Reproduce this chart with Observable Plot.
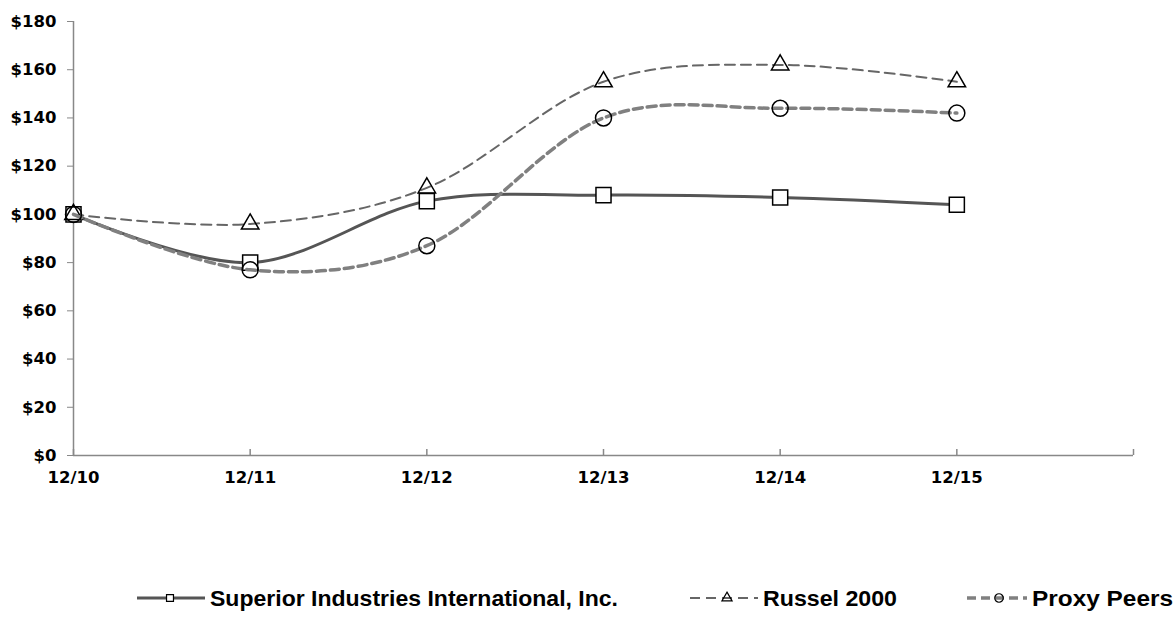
<!DOCTYPE html>
<html>
<head>
<meta charset="utf-8">
<script src="https://cdn.jsdelivr.net/npm/d3@7"></script>
<script src="https://cdn.jsdelivr.net/npm/@observablehq/plot@0.6"></script>
<style>
  html, body { margin: 0; padding: 0; background: #fff; }
  #wrap { position: relative; width: 1176px; height: 626px; background: #fff; overflow: hidden; }
  #chart { position: absolute; left: 0; top: 0; }
  #legend { position: absolute; left: 0; top: 500px; }
</style>
</head>
<body>
<div id="wrap"><div id="chart"></div><svg id="legend" width="1176" height="126"></svg></div>
<script>
// ---- data ----
const dates = ["12/10", "12/11", "12/12", "12/13", "12/14", "12/15"];
const superior = [100, 80, 105.5, 108, 107, 104];
const russell = [100, 96, 111, 155, 162, 155];
const proxy = [100, 77, 87, 140, 144, 142];
const seriesNames = ["Superior Industries International, Inc.", "Russel 2000", "Proxy Peers"];
const yTicks = [0, 20, 40, 60, 80, 100, 120, 140, 160, 180];
const xTickCount = 7; // six dated categories plus an empty trailing slot

// ---- styles ----
const styles = [
  {name: seriesNames[0], values: superior, stroke: "#555", width: 3, dash: null, symbol: "square", r: 8.5, fill: "#fff"},
  {name: seriesNames[1], values: russell, stroke: "#666", width: 2, dash: "10,6", symbol: "triangle", r: 6.5, fill: "none"},
  {name: seriesNames[2], values: proxy, stroke: "#808080", width: 3.5, dash: "9,5", symbol: "circle", r: 8, fill: "none"}
];

const tables = styles.map(s => dates.map((d, i) => ({i, date: d, v: s.values[i]})));
const tickIdx = d3.range(xTickCount);

const marks = [
  Plot.axisY({ticks: yTicks, tickFormat: d => "$" + d, tickSize: 6, tickPadding: 11, stroke: "#888", label: null}),
  Plot.axisX({ticks: d3.range(dates.length), tickFormat: i => dates[i], tickSize: 0, tickPadding: 16, label: null}),
  Plot.ruleX(tickIdx, {x: d => d, y1: 0, y2: 0, insetTop: -6, stroke: "#888", strokeWidth: 1.5}),
  Plot.ruleX([0], {stroke: "#888", strokeWidth: 1.5}),
  Plot.ruleY([0], {stroke: "#888", strokeWidth: 1.5})
];
styles.forEach((s, k) => {
  marks.push(Plot.line(tables[k], {x: "i", y: "v", curve: "cardinal", stroke: s.stroke, strokeWidth: s.width, strokeDasharray: s.dash}));
  marks.push(Plot.dot(tables[k], {x: "i", y: "v", symbol: s.symbol, r: s.r, stroke: "#000", strokeWidth: 1.5, fill: s.fill}));
});

const chart = Plot.plot({
  width: 1176,
  height: 500,
  marginLeft: 73,
  marginRight: 43,
  marginTop: 21,
  marginBottom: 45,
  style: {fontFamily: "'DejaVu Sans', sans-serif", fontWeight: "bold", fontSize: "16.5px", color: "#000", background: "#fff", overflow: "visible"},
  x: {domain: [0, xTickCount - 1], axis: null},
  y: {domain: [0, 180], axis: null},
  marks
});
document.getElementById("chart").appendChild(chart);

// ---- legend ----
const legendLayout = [
  {x0: 137, x1: 205, mx: 170, tx: 210, tw: 408, mr: 3.2},
  {x0: 690, x1: 758, mx: 727, tx: 763, tw: 134, mr: 3.2},
  {x0: 967, x1: 1027, mx: 999, tx: 1032, tw: 141, mr: 3.6}
];
const ly = 98;
const lg = d3.select("#legend");
styles.forEach((s, k) => {
  const L = legendLayout[k];
  lg.append("line").attr("x1", L.x0).attr("x2", L.x1).attr("y1", ly).attr("y2", ly)
    .attr("stroke", s.stroke).attr("stroke-width", s.width).attr("stroke-dasharray", s.dash);
  const sym = {square: d3.symbolSquare, triangle: d3.symbolTriangle, circle: d3.symbolCircle}[s.symbol];
  lg.append("path").attr("d", d3.symbol(sym, Math.PI * L.mr * L.mr * (s.symbol === "square" ? 1.5 : 1.4))())
    .attr("transform", `translate(${L.mx},${ly})`).attr("fill", s.fill === "none" ? "none" : "#fff")
    .attr("stroke", "#000").attr("stroke-width", 1.2);
  lg.append("text").attr("x", L.tx).attr("y", ly).attr("dy", "0.36em")
    .attr("textLength", L.tw).attr("lengthAdjust", "spacingAndGlyphs")
    .style("font-family", "'Liberation Sans', Arial, sans-serif").style("font-weight", "bold").style("font-size", "22px")
    .text(s.name);
});
</script>
</body>
</html>
